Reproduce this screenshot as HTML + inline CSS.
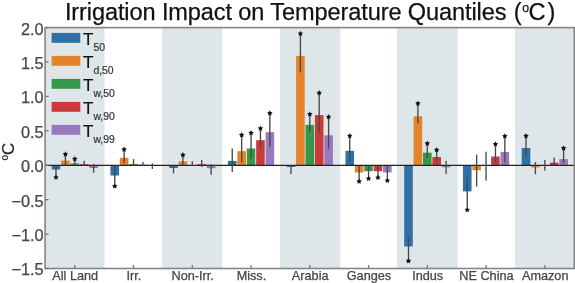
<!DOCTYPE html>
<html><head><meta charset="utf-8"><title>Irrigation Impact on Temperature Quantiles</title>
<style>
html,body{margin:0;padding:0;background:#fff;width:575px;height:283px;overflow:hidden;}
svg{display:block;font-family:"Liberation Sans",sans-serif;filter:blur(0.6px);}
text{stroke:currentColor;stroke-width:0.25px;}
</style></head><body>
<svg width="575" height="283" viewBox="0 0 575 283" font-family="Liberation Sans, sans-serif"><rect x="45.10" y="27.60" width="59.40" height="240.90" fill="#dee6ea"/>
<rect x="162.20" y="27.60" width="60.05" height="240.90" fill="#dee6ea"/>
<rect x="280.07" y="27.60" width="60.18" height="240.90" fill="#dee6ea"/>
<rect x="397.00" y="27.60" width="60.60" height="240.90" fill="#dee6ea"/>
<rect x="515.10" y="27.60" width="59.20" height="240.90" fill="#dee6ea"/>
<rect x="51.70" y="165.40" width="8.60" height="4.10" fill="#2d71a7"/>
<rect x="61.10" y="160.60" width="8.60" height="4.80" fill="#e4832c"/>
<rect x="70.50" y="163.40" width="8.60" height="2.00" fill="#36964a"/>
<rect x="79.90" y="164.20" width="8.60" height="1.20" fill="#cb3a3b"/>
<rect x="89.30" y="165.40" width="8.60" height="2.60" fill="#9878bf"/>
<rect x="110.45" y="165.40" width="8.60" height="10.10" fill="#2d71a7"/>
<rect x="119.85" y="157.80" width="8.60" height="7.60" fill="#e4832c"/>
<rect x="129.25" y="164.10" width="8.60" height="1.30" fill="#36964a"/>
<rect x="138.65" y="164.70" width="8.60" height="0.70" fill="#cb3a3b"/>
<rect x="148.05" y="165.40" width="8.60" height="0.40" fill="#9878bf"/>
<rect x="169.20" y="165.40" width="8.60" height="2.60" fill="#2d71a7"/>
<rect x="178.60" y="161.30" width="8.60" height="4.10" fill="#e4832c"/>
<rect x="188.00" y="165.00" width="8.60" height="0.40" fill="#36964a"/>
<rect x="197.40" y="164.10" width="8.60" height="1.30" fill="#cb3a3b"/>
<rect x="206.80" y="165.40" width="8.60" height="2.90" fill="#9878bf"/>
<rect x="227.95" y="160.90" width="8.60" height="4.50" fill="#2d71a7"/>
<rect x="237.35" y="151.20" width="8.60" height="14.20" fill="#e4832c"/>
<rect x="246.75" y="148.50" width="8.60" height="16.90" fill="#36964a"/>
<rect x="256.15" y="140.20" width="8.60" height="25.20" fill="#cb3a3b"/>
<rect x="265.55" y="132.20" width="8.60" height="33.20" fill="#9878bf"/>
<rect x="286.70" y="165.40" width="8.60" height="1.60" fill="#2d71a7"/>
<rect x="296.10" y="55.90" width="8.60" height="109.50" fill="#e4832c"/>
<rect x="305.50" y="124.90" width="8.60" height="40.50" fill="#36964a"/>
<rect x="314.90" y="115.10" width="8.60" height="50.30" fill="#cb3a3b"/>
<rect x="324.30" y="135.30" width="8.60" height="30.10" fill="#9878bf"/>
<rect x="345.45" y="150.80" width="8.60" height="14.60" fill="#2d71a7"/>
<rect x="354.85" y="165.40" width="8.60" height="7.10" fill="#e4832c"/>
<rect x="364.25" y="165.40" width="8.60" height="5.80" fill="#36964a"/>
<rect x="373.65" y="165.40" width="8.60" height="5.80" fill="#cb3a3b"/>
<rect x="383.05" y="165.40" width="8.60" height="7.10" fill="#9878bf"/>
<rect x="404.20" y="165.40" width="8.60" height="81.10" fill="#2d71a7"/>
<rect x="413.60" y="116.30" width="8.60" height="49.10" fill="#e4832c"/>
<rect x="423.00" y="152.70" width="8.60" height="12.70" fill="#36964a"/>
<rect x="432.40" y="157.00" width="8.60" height="8.40" fill="#cb3a3b"/>
<rect x="441.80" y="165.40" width="8.60" height="1.90" fill="#9878bf"/>
<rect x="462.95" y="165.40" width="8.60" height="26.00" fill="#2d71a7"/>
<rect x="472.35" y="165.40" width="8.60" height="4.80" fill="#e4832c"/>
<rect x="481.75" y="165.40" width="8.60" height="0.40" fill="#36964a"/>
<rect x="491.15" y="156.50" width="8.60" height="8.90" fill="#cb3a3b"/>
<rect x="500.55" y="152.00" width="8.60" height="13.40" fill="#9878bf"/>
<rect x="521.70" y="148.00" width="8.60" height="17.40" fill="#2d71a7"/>
<rect x="531.10" y="165.40" width="8.60" height="2.00" fill="#e4832c"/>
<rect x="540.50" y="165.40" width="8.60" height="0.00" fill="#36964a"/>
<rect x="549.90" y="162.60" width="8.60" height="2.80" fill="#cb3a3b"/>
<rect x="559.30" y="159.10" width="8.60" height="6.30" fill="#9878bf"/>
<line x1="45.10" y1="165.40" x2="574.30" y2="165.40" stroke="#222" stroke-width="1.4"/>
<g stroke="#484848" stroke-width="1.35"><line x1="56.00" y1="165.40" x2="56.00" y2="176.50"/><line x1="65.40" y1="155.00" x2="65.40" y2="165.00"/><line x1="74.80" y1="159.00" x2="74.80" y2="165.40"/><line x1="84.20" y1="160.80" x2="84.20" y2="166.00"/><line x1="93.60" y1="163.80" x2="93.60" y2="172.80"/><line x1="114.75" y1="165.40" x2="114.75" y2="185.50"/><line x1="124.15" y1="150.00" x2="124.15" y2="163.00"/><line x1="133.55" y1="159.10" x2="133.55" y2="166.00"/><line x1="142.95" y1="162.00" x2="142.95" y2="166.00"/><line x1="152.35" y1="163.40" x2="152.35" y2="169.00"/><line x1="173.50" y1="165.40" x2="173.50" y2="173.40"/><line x1="182.90" y1="155.80" x2="182.90" y2="165.00"/><line x1="192.30" y1="161.30" x2="192.30" y2="165.50"/><line x1="201.70" y1="159.90" x2="201.70" y2="166.90"/><line x1="211.10" y1="164.00" x2="211.10" y2="174.70"/><line x1="232.25" y1="148.50" x2="232.25" y2="172.00"/><line x1="241.65" y1="135.50" x2="241.65" y2="162.60"/><line x1="251.05" y1="133.50" x2="251.05" y2="159.10"/><line x1="260.45" y1="129.00" x2="260.45" y2="147.60"/><line x1="269.85" y1="114.00" x2="269.85" y2="146.80"/><line x1="291.00" y1="165.40" x2="291.00" y2="174.00"/><line x1="300.40" y1="33.60" x2="300.40" y2="72.40"/><line x1="309.80" y1="114.20" x2="309.80" y2="131.60"/><line x1="319.20" y1="93.00" x2="319.20" y2="132.70"/><line x1="328.60" y1="116.90" x2="328.60" y2="148.60"/><line x1="349.75" y1="136.00" x2="349.75" y2="162.00"/><line x1="359.15" y1="166.00" x2="359.15" y2="181.50"/><line x1="368.55" y1="166.00" x2="368.55" y2="178.60"/><line x1="377.95" y1="166.00" x2="377.95" y2="177.60"/><line x1="387.35" y1="166.00" x2="387.35" y2="180.60"/><line x1="408.50" y1="236.80" x2="408.50" y2="260.70"/><line x1="417.90" y1="103.50" x2="417.90" y2="123.30"/><line x1="427.30" y1="143.50" x2="427.30" y2="157.70"/><line x1="436.70" y1="150.00" x2="436.70" y2="161.20"/><line x1="446.10" y1="160.80" x2="446.10" y2="174.00"/><line x1="467.25" y1="177.00" x2="467.25" y2="209.00"/><line x1="476.65" y1="154.70" x2="476.65" y2="186.50"/><line x1="486.05" y1="151.70" x2="486.05" y2="180.60"/><line x1="495.45" y1="144.10" x2="495.45" y2="162.60"/><line x1="504.85" y1="136.20" x2="504.85" y2="162.60"/><line x1="526.00" y1="136.00" x2="526.00" y2="156.80"/><line x1="535.40" y1="162.00" x2="535.40" y2="174.20"/><line x1="544.80" y1="160.00" x2="544.80" y2="170.60"/><line x1="554.20" y1="157.40" x2="554.20" y2="165.30"/><line x1="563.60" y1="148.20" x2="563.60" y2="163.10"/></g>
<g fill="#111"><path d="M56.00,174.40 L56.85,176.13 L58.76,176.40 L57.38,177.75 L57.70,179.65 L56.00,178.75 L54.30,179.65 L54.62,177.75 L53.24,176.40 L55.15,176.13 Z"/><path d="M65.40,151.30 L66.25,153.03 L68.16,153.30 L66.78,154.65 L67.10,156.55 L65.40,155.65 L63.70,156.55 L64.02,154.65 L62.64,153.30 L64.55,153.03 Z"/><path d="M74.80,156.10 L75.65,157.83 L77.56,158.10 L76.18,159.45 L76.50,161.35 L74.80,160.45 L73.10,161.35 L73.42,159.45 L72.04,158.10 L73.95,157.83 Z"/><path d="M114.75,183.30 L115.60,185.03 L117.51,185.30 L116.13,186.65 L116.45,188.55 L114.75,187.65 L113.05,188.55 L113.37,186.65 L111.99,185.30 L113.90,185.03 Z"/><path d="M124.15,146.60 L125.00,148.33 L126.91,148.60 L125.53,149.95 L125.85,151.85 L124.15,150.95 L122.45,151.85 L122.77,149.95 L121.39,148.60 L123.30,148.33 Z"/><path d="M182.90,152.10 L183.75,153.83 L185.66,154.10 L184.28,155.45 L184.60,157.35 L182.90,156.45 L181.20,157.35 L181.52,155.45 L180.14,154.10 L182.05,153.83 Z"/><path d="M241.65,132.10 L242.50,133.83 L244.41,134.10 L243.03,135.45 L243.35,137.35 L241.65,136.45 L239.95,137.35 L240.27,135.45 L238.89,134.10 L240.80,133.83 Z"/><path d="M251.05,130.10 L251.90,131.83 L253.81,132.10 L252.43,133.45 L252.75,135.35 L251.05,134.45 L249.35,135.35 L249.67,133.45 L248.29,132.10 L250.20,131.83 Z"/><path d="M260.45,125.60 L261.30,127.33 L263.21,127.60 L261.83,128.95 L262.15,130.85 L260.45,129.95 L258.75,130.85 L259.07,128.95 L257.69,127.60 L259.60,127.33 Z"/><path d="M269.85,110.30 L270.70,112.03 L272.61,112.30 L271.23,113.65 L271.55,115.55 L269.85,114.65 L268.15,115.55 L268.47,113.65 L267.09,112.30 L269.00,112.03 Z"/><path d="M300.40,30.70 L301.25,32.43 L303.16,32.70 L301.78,34.05 L302.10,35.95 L300.40,35.05 L298.70,35.95 L299.02,34.05 L297.64,32.70 L299.55,32.43 Z"/><path d="M309.80,111.30 L310.65,113.03 L312.56,113.30 L311.18,114.65 L311.50,116.55 L309.80,115.65 L308.10,116.55 L308.42,114.65 L307.04,113.30 L308.95,113.03 Z"/><path d="M319.20,90.10 L320.05,91.83 L321.96,92.10 L320.58,93.45 L320.90,95.35 L319.20,94.45 L317.50,95.35 L317.82,93.45 L316.44,92.10 L318.35,91.83 Z"/><path d="M328.60,114.00 L329.45,115.73 L331.36,116.00 L329.98,117.35 L330.30,119.25 L328.60,118.35 L326.90,119.25 L327.22,117.35 L325.84,116.00 L327.75,115.73 Z"/><path d="M349.75,133.00 L350.60,134.73 L352.51,135.00 L351.13,136.35 L351.45,138.25 L349.75,137.35 L348.05,138.25 L348.37,136.35 L346.99,135.00 L348.90,134.73 Z"/><path d="M359.15,178.60 L360.00,180.33 L361.91,180.60 L360.53,181.95 L360.85,183.85 L359.15,182.95 L357.45,183.85 L357.77,181.95 L356.39,180.60 L358.30,180.33 Z"/><path d="M368.55,175.70 L369.40,177.43 L371.31,177.70 L369.93,179.05 L370.25,180.95 L368.55,180.05 L366.85,180.95 L367.17,179.05 L365.79,177.70 L367.70,177.43 Z"/><path d="M377.95,174.70 L378.80,176.43 L380.71,176.70 L379.33,178.05 L379.65,179.95 L377.95,179.05 L376.25,179.95 L376.57,178.05 L375.19,176.70 L377.10,176.43 Z"/><path d="M387.35,177.70 L388.20,179.43 L390.11,179.70 L388.73,181.05 L389.05,182.95 L387.35,182.05 L385.65,182.95 L385.97,181.05 L384.59,179.70 L386.50,179.43 Z"/><path d="M408.50,258.10 L409.35,259.83 L411.26,260.10 L409.88,261.45 L410.20,263.35 L408.50,262.45 L406.80,263.35 L407.12,261.45 L405.74,260.10 L407.65,259.83 Z"/><path d="M417.90,100.60 L418.75,102.33 L420.66,102.60 L419.28,103.95 L419.60,105.85 L417.90,104.95 L416.20,105.85 L416.52,103.95 L415.14,102.60 L417.05,102.33 Z"/><path d="M427.30,140.60 L428.15,142.33 L430.06,142.60 L428.68,143.95 L429.00,145.85 L427.30,144.95 L425.60,145.85 L425.92,143.95 L424.54,142.60 L426.45,142.33 Z"/><path d="M436.70,147.10 L437.55,148.83 L439.46,149.10 L438.08,150.45 L438.40,152.35 L436.70,151.45 L435.00,152.35 L435.32,150.45 L433.94,149.10 L435.85,148.83 Z"/><path d="M467.25,206.90 L468.10,208.63 L470.01,208.90 L468.63,210.25 L468.95,212.15 L467.25,211.25 L465.55,212.15 L465.87,210.25 L464.49,208.90 L466.40,208.63 Z"/><path d="M495.45,141.20 L496.30,142.93 L498.21,143.20 L496.83,144.55 L497.15,146.45 L495.45,145.55 L493.75,146.45 L494.07,144.55 L492.69,143.20 L494.60,142.93 Z"/><path d="M504.85,133.30 L505.70,135.03 L507.61,135.30 L506.23,136.65 L506.55,138.55 L504.85,137.65 L503.15,138.55 L503.47,136.65 L502.09,135.30 L504.00,135.03 Z"/><path d="M526.00,133.10 L526.85,134.83 L528.76,135.10 L527.38,136.45 L527.70,138.35 L526.00,137.45 L524.30,138.35 L524.62,136.45 L523.24,135.10 L525.15,134.83 Z"/><path d="M563.60,145.30 L564.45,147.03 L566.36,147.30 L564.98,148.65 L565.30,150.55 L563.60,149.65 L561.90,150.55 L562.22,148.65 L560.84,147.30 L562.75,147.03 Z"/></g>
<rect x="45.10" y="27.60" width="529.20" height="240.90" fill="none" stroke="#858585" stroke-width="1.6"/>
<g stroke="#777" stroke-width="1.3"><line x1="45.10" y1="27.60" x2="48.60" y2="27.60"/><line x1="45.10" y1="62.01" x2="48.60" y2="62.01"/><line x1="45.10" y1="96.43" x2="48.60" y2="96.43"/><line x1="45.10" y1="130.84" x2="48.60" y2="130.84"/><line x1="45.10" y1="165.26" x2="48.60" y2="165.26"/><line x1="45.10" y1="199.67" x2="48.60" y2="199.67"/><line x1="45.10" y1="234.09" x2="48.60" y2="234.09"/><line x1="45.10" y1="268.50" x2="48.60" y2="268.50"/><line x1="74.80" y1="268.50" x2="74.80" y2="265.00"/><line x1="133.55" y1="268.50" x2="133.55" y2="265.00"/><line x1="192.30" y1="268.50" x2="192.30" y2="265.00"/><line x1="251.05" y1="268.50" x2="251.05" y2="265.00"/><line x1="309.80" y1="268.50" x2="309.80" y2="265.00"/><line x1="368.55" y1="268.50" x2="368.55" y2="265.00"/><line x1="427.30" y1="268.50" x2="427.30" y2="265.00"/><line x1="486.05" y1="268.50" x2="486.05" y2="265.00"/><line x1="544.80" y1="268.50" x2="544.80" y2="265.00"/></g>
<g font-size="16.3" fill="#474747" color="#474747"><text x="43.6" y="34.50" text-anchor="end">2.0</text><text x="43.6" y="68.91" text-anchor="end">1.5</text><text x="43.6" y="103.33" text-anchor="end">1.0</text><text x="43.6" y="137.74" text-anchor="end">0.5</text><text x="43.6" y="172.16" text-anchor="end">0.0</text><text x="43.6" y="206.57" text-anchor="end">−0.5</text><text x="43.6" y="240.99" text-anchor="end">−1.0</text><text x="43.6" y="275.40" text-anchor="end">−1.5</text></g>
<g font-size="12.7" fill="#444" color="#444"><text x="75.20" y="280.3" text-anchor="middle">All Land</text><text x="133.95" y="280.3" text-anchor="middle">Irr.</text><text x="192.70" y="280.3" text-anchor="middle">Non-Irr.</text><text x="251.45" y="280.3" text-anchor="middle">Miss.</text><text x="310.20" y="280.3" text-anchor="middle">Arabia</text><text x="368.95" y="280.3" text-anchor="middle">Ganges</text><text x="427.70" y="280.3" text-anchor="middle">Indus</text><text x="486.45" y="280.3" text-anchor="middle">NE China</text><text x="545.20" y="280.3" text-anchor="middle">Amazon</text></g>
<g font-size="23.55" fill="#111" color="#111"><text x="64.9" y="20.3" textLength="441.6" lengthAdjust="spacing">Irrigation Impact on Temperature Quantiles</text><text x="513.8" y="20.1">(</text><text x="522.2" y="12.2" font-size="12.3">o</text><text x="528.4" y="20.1">C</text><text x="547.4" y="20.1">)</text></g>
<text transform="translate(14.0,160.6) rotate(-90)" font-size="17" fill="#222" color="#222" style="stroke-width:0.15px"><tspan font-size="10" dy="-6">o</tspan><tspan dy="6">C</tspan></text>
<rect x="51.6" y="32.90" width="28.7" height="9.9" fill="#2d71a7"/>
<text x="83.0" y="44.60" font-size="17" fill="#111" color="#111" style="stroke-width:0.2px">T</text>
<text x="93.4" y="51.30" font-size="10.4" fill="#333" color="#333" style="stroke-width:0.2px">50</text>
<rect x="51.6" y="55.90" width="28.7" height="9.9" fill="#e4832c"/>
<text x="83.0" y="67.60" font-size="17" fill="#111" color="#111" style="stroke-width:0.2px">T</text>
<text x="93.4" y="74.30" font-size="10.4" fill="#333" color="#333" style="stroke-width:0.2px">d,50</text>
<rect x="51.6" y="78.90" width="28.7" height="9.9" fill="#36964a"/>
<text x="83.0" y="90.60" font-size="17" fill="#111" color="#111" style="stroke-width:0.2px">T</text>
<text x="93.4" y="97.30" font-size="10.4" fill="#333" color="#333" style="stroke-width:0.2px">w,50</text>
<rect x="51.6" y="101.90" width="28.7" height="9.9" fill="#cb3a3b"/>
<text x="83.0" y="113.60" font-size="17" fill="#111" color="#111" style="stroke-width:0.2px">T</text>
<text x="93.4" y="120.30" font-size="10.4" fill="#333" color="#333" style="stroke-width:0.2px">w,90</text>
<rect x="51.6" y="124.90" width="28.7" height="9.9" fill="#9878bf"/>
<text x="83.0" y="136.60" font-size="17" fill="#111" color="#111" style="stroke-width:0.2px">T</text>
<text x="93.4" y="143.30" font-size="10.4" fill="#333" color="#333" style="stroke-width:0.2px">w,99</text></svg>
</body></html>
